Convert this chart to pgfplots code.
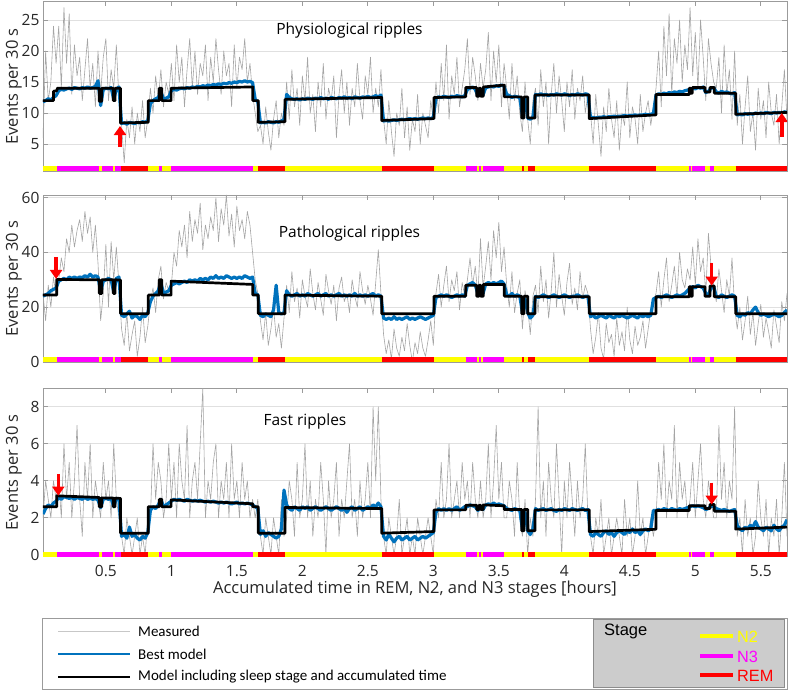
\documentclass[border=0pt]{standalone}
\usepackage{pgfplots}
\pgfplotsset{compat=1.18}
\usepackage{pgfplotstable}
\usepackage{fontspec}
\setmainfont{Open Sans}
\newfontfamily\legfont{Carlito}
\newfontfamily\arialfont{Liberation Sans}
\usetikzlibrary{arrows.meta}
\definecolor{mgray}{RGB}{165,165,165}
\definecolor{mblue}{RGB}{0,114,189}
\definecolor{axgray}{RGB}{155,155,155}
\definecolor{txt}{RGB}{38,38,38}
\definecolor{boxgray}{RGB}{204,204,204}
\definecolor{styel}{RGB}{255,255,0}
\definecolor{stmag}{RGB}{255,0,255}
\definecolor{stred}{RGB}{255,0,0}

\pgfplotstableread{
x g1 b1 g2 b2 g3 b3
0.02 6 11.8 25 24 2 2.2
0.04 20 12.0 15 24.5 4 2.5
0.06 12 12.3 28 25 3 2.7
0.08 15 12.1 20 26 2 2.6
0.10 24 12.5 31 26.5 4 2.8
0.12 18 12.8 24 27 3 2.9
0.14 24 13.6 30 29.5 4 3.1
0.16 14 13.8 38 30 2 3.0
0.18 27 13.7 33 30.5 6 3.15
0.20 18 13.9 45 30 3 3.1
0.22 26 14.0 40 31 5 3.05
0.24 13 13.8 50 30.5 2 3.1
0.26 21 14.1 42 31 4 3.0
0.28 16 14.0 48 30.5 7 3.1
0.30 19 13.9 52 31 3 3.05
0.32 12 14.1 44 30.8 1 3.0
0.34 17 14.0 55 31.5 5 3.1
0.36 22 14.2 47 31 3 3.0
0.38 14 14.0 53 32 6 3.05
0.40 18 14.1 40 31 2 3.0
0.42 11 14.3 50 31.5 4 3.05
0.44 20 15.2 36 31 3 2.95
0.46 13 11.2 15 25.5 2 2.55
0.48 19 13.8 25 29.5 5 3.0
0.50 22 14.0 43 30 3 3.05
0.52 12 13.9 20 30.5 4 3.0
0.54 17 14.1 44 30 2 3.05
0.56 14 12.2 30 25.5 6 2.6
0.58 21 13.9 42 30.5 3 3.05
0.60 12 14.2 28 31 2 3.0
0.62 8 8.3 12 17 1 1.0
0.64 2 8.4 6 16.5 0 1.1
0.66 9 8.2 18 17.5 2 0.9
0.68 6 8.5 4 18.5 1 1.5
0.70 11 8.4 10 16 0 1.0
0.72 5 8.3 15 17 1 1.1
0.74 10 8.5 2 16.5 2 0.9
0.76 7 8.4 9 15.5 0 0.8
0.78 12 8.6 20 17 1 1.0
0.80 6 8.5 7 16.5 0 0.9
0.82 9 8.8 13 18 2 1.2
0.84 14 11.5 22 22 2 2.4
0.86 10 12.0 27 24 6 2.6
0.88 16 12.3 18 25 3 2.5
0.90 12 12.5 30 26 5 2.7
0.92 17 13.5 35 29 4 3.0
0.94 11 12.2 23 25 2 2.6
0.96 15 12.4 29 25.5 3 2.7
0.98 13 12.6 26 26 6 2.8
1.00 18 13.6 28 28 3 2.9
1.02 12 13.8 40 28.5 5 3.0
1.04 21 13.7 35 29 2 2.95
1.06 15 13.9 48 28.5 6 3.0
1.08 19 14.0 42 29 4 2.95
1.10 11 13.9 50 29.5 3 2.9
1.12 17 14.1 38 29 7 3.0
1.14 22 14.0 55 30 2 2.95
1.16 14 14.2 44 29.5 4 2.9
1.18 20 14.1 52 30 5 2.95
1.20 13 14.3 47 29.5 3 2.9
1.22 18 14.2 58 30.5 6 2.95
1.24 16 14.4 41 30 9 2.9
1.26 21 14.3 50 30.5 2 2.85
1.28 12 14.5 45 30 4 2.9
1.30 19 14.4 53 31 3 2.85
1.32 15 14.6 48 30.5 5 2.9
1.34 22 14.5 60 31.5 6 2.85
1.36 17 14.7 44 30.5 2 2.8
1.38 13 14.6 56 31 4 2.85
1.40 20 14.8 50 30.5 3 2.8
1.42 16 14.7 61 31.5 5 2.85
1.44 18 14.9 46 31 2 2.8
1.46 11 14.8 54 30.5 6 2.75
1.48 21 15.0 42 31 3 2.8
1.50 14 14.9 57 30.5 4 2.85
1.52 19 15.1 48 31 2 2.75
1.54 17 15.0 52 30.5 5 2.8
1.56 22 15.2 45 31.5 3 2.75
1.58 15 15.0 55 31 4 2.8
1.60 18 15.1 50 30.5 2 2.75
1.62 13 14.9 40 31 3 2.7
1.64 10 12.2 30 25 2 2.6
1.66 7 11.8 25 24.5 3 2.5
1.68 8 8.4 15 17 1 1.1
1.70 5 8.5 8 16.5 0 1.3
1.72 11 8.4 18 17.5 2 1.0
1.74 7 8.6 6 17 1 1.2
1.76 4 8.5 12 16.5 0 1.1
1.78 9 8.4 20 19 2 1.0
1.80 12 8.6 9 28 1 0.9
1.82 6 8.5 14 18 0 1.0
1.84 10 8.7 5 17.5 3 1.4
1.86 8 9.0 16 18 1 3.5
1.88 15 13.0 28 26 2 2.7
1.90 9 12.5 18 24.5 4 2.5
1.92 17 12.3 33 24 3 2.4
1.94 11 12.2 22 24.5 1 2.6
1.96 14 12.3 27 25 5 2.5
1.98 8 12.1 16 24 2 2.4
2.00 16 12.3 30 24.5 3 2.6
2.02 12 12.2 24 24 6 2.5
2.04 19 12.4 20 25 2 2.6
2.06 10 12.3 34 24.5 4 2.4
2.08 13 12.2 25 24 1 2.5
2.10 7 12.4 19 24.5 3 2.6
2.12 15 12.3 29 25 2 2.5
2.14 11 12.5 23 24 5 2.4
2.16 18 12.3 17 24.5 3 2.5
2.18 9 12.4 32 25 0 2.6
2.20 14 12.2 26 24 4 2.5
2.22 12 12.5 21 24.5 2 2.4
2.24 16 12.4 28 24 3 2.5
2.26 6 12.3 15 24.5 5 2.6
2.28 13 12.5 27 25 1 2.5
2.30 17 12.4 31 24 3 2.4
2.32 10 12.6 22 24.5 2 2.5
2.34 15 12.4 25 24 4 2.3
2.36 8 12.5 18 24.5 6 2.5
2.38 14 12.3 30 24 2 2.6
2.40 11 12.6 24 25 3 2.4
2.42 18 12.5 20 24 1 2.5
2.44 12 12.4 33 24.5 4 2.6
2.46 9 12.6 26 24 2 2.4
2.48 16 12.5 21 24.5 3 2.5
2.50 13 12.7 28 24 5 2.6
2.52 19 12.5 23 24.5 2 2.5
2.54 10 12.6 17 25 8 2.7
2.56 14 12.8 29 24 4 2.6
2.58 11 12.6 41 24.5 8 2.8
2.60 17 12.9 25 24 3 2.6
2.62 9 8.7 10 16 1 1.0
2.64 5 8.8 3 15.5 0 0.8
2.66 12 8.7 8 16 2 1.1
2.68 7 8.8 1 15.5 1 0.9
2.70 3 8.9 12 16.5 0 0.7
2.72 10 8.8 5 15.5 1 0.9
2.74 8 8.9 2 16 3 1.0
2.76 14 9.0 9 15.5 0 0.8
2.78 6 8.9 4 16 1 0.9
2.80 11 9.0 14 16.5 2 1.0
2.82 4 9.1 6 15.5 0 0.8
2.84 9 9.0 0 16 1 0.9
2.86 7 9.1 7 15.5 0 1.0
2.88 13 9.0 3 16 2 0.8
2.90 5 9.1 11 16.5 1 0.9
2.92 10 9.2 5 16 0 1.0
2.94 8 9.1 2 15.5 1 0.9
2.96 6 9.2 8 16 2 1.0
2.98 12 9.1 15 16.5 1 1.1
3.00 9 9.3 6 17 0 1.2
3.02 15 12.4 25 23.5 3 2.3
3.04 10 12.6 32 24 2 2.5
3.06 18 12.5 20 24.5 5 2.4
3.08 12 12.7 28 24 2 2.5
3.10 21 12.6 35 24.5 3 2.4
3.12 9 12.5 22 24 6 2.5
3.14 16 12.7 30 23.5 2 2.4
3.16 13 12.6 26 24 3 2.5
3.18 19 12.8 33 24.5 4 2.6
3.20 11 12.7 19 24 2 2.4
3.22 14 12.6 29 24.5 5 2.5
3.24 17 12.8 24 24 3 2.6
3.26 22 13.8 30 28 4 2.6
3.28 13 14.0 38 28.5 2 2.7
3.30 19 14.2 28 29 5 2.65
3.32 16 13.8 35 28 3 2.6
3.34 12 12.8 24 25 2 2.4
3.36 18 13.5 45 27 4 2.55
3.38 14 12.9 27 25 2 2.45
3.40 17 14.1 35 28.5 3 2.7
3.42 23 14.2 44 29 6 2.75
3.44 12 14.3 30 28.5 2 2.7
3.46 20 14.2 48 29 4 2.8
3.48 15 14.4 38 28.5 7 2.7
3.50 21 14.3 51 29 3 2.75
3.52 11 14.5 33 29.5 5 2.7
3.54 18 14.3 42 28.5 2 2.65
3.56 14 13.0 28 24.5 2 2.5
3.58 9 12.8 20 24 4 2.45
3.60 18 12.5 33 25 3 2.4
3.62 12 12.7 18 24 1 2.5
3.64 16 12.6 25 24.5 5 2.45
3.66 10 12.5 30 24 2 2.4
3.68 7 9.5 12 18 1 1.4
3.70 15 12.4 26 23 3 2.3
3.72 9 9.2 20 18 0 1.3
3.74 5 9.0 10 16 2 1.1
3.76 12 9.3 24 17 1 1.4
3.78 14 13.0 28 24 3 2.5
3.80 8 12.9 18 23.5 8 2.4
3.82 17 13.1 35 24 2 2.45
3.84 11 12.9 22 24.5 4 2.5
3.86 15 13.0 30 24 1 2.4
3.88 5 12.8 16 23.5 5 2.45
3.90 13 13.0 26 24 3 2.5
3.92 18 12.9 40 24.5 2 2.4
3.94 10 13.1 20 24 6 2.35
3.96 16 13.0 32 23.5 3 2.45
3.98 12 12.9 24 24 0 2.4
4.00 7 13.1 17 24.5 4 2.5
4.02 15 13.0 29 24 2 2.45
4.04 11 12.8 36 23.5 5 2.4
4.06 17 13.0 21 24 3 2.5
4.08 9 12.9 27 24 1 2.45
4.10 14 13.1 19 24.5 4 2.4
4.12 12 13.0 33 24 2 2.45
4.14 16 12.9 23 23.5 3 2.5
4.16 10 13.1 28 24 6 2.4
4.18 13 13.0 25 24 2 2.45
4.20 10 9.2 12 16.5 1 1.1
4.22 5 9.3 3 17 0 1.0
4.24 13 9.2 9 16 2 1.2
4.26 8 9.3 18 16.5 1 1.1
4.28 3 9.3 5 17 3 1.0
4.30 11 9.4 1 16.5 0 1.2
4.32 7 9.3 14 16 1 1.3
4.34 14 9.4 7 17 2 1.1
4.36 9 9.4 10 16.5 0 1.2
4.38 6 9.5 2 16 1 1.0
4.40 12 9.4 16 17 2 1.2
4.42 4 9.5 6 16.5 1 1.3
4.44 10 9.5 11 17 0 1.2
4.46 8 9.6 4 16.5 3 1.1
4.48 15 9.5 20 16 1 1.3
4.50 6 9.6 8 16.5 2 1.2
4.52 11 9.6 3 17 0 1.4
4.54 9 9.7 13 16.5 1 1.2
4.56 5 9.6 6 16 4 1.3
4.58 13 9.7 9 17 1 1.1
4.60 7 9.7 15 16.5 2 1.3
4.62 10 9.8 5 17 0 1.4
4.64 12 9.7 12 16.5 1 1.3
4.66 8 9.8 19 17 2 1.4
4.68 11 9.9 22 23 1 2.4
4.70 14 12.9 25 23.5 2 2.4
4.72 20 13.1 33 24 5 2.45
4.74 11 13.0 20 23.5 3 2.4
4.76 24 13.2 30 24 6 2.5
4.78 16 13.1 38 24.5 2 2.45
4.80 26 13.3 22 24 4 2.4
4.82 13 13.2 28 23.5 3 2.5
4.84 22 13.4 35 24 7 2.45
4.86 18 13.3 24 24.5 2 2.4
4.88 25 13.5 40 24 5 2.5
4.90 15 13.4 30 24.5 3 2.45
4.92 21 13.6 27 25 4 2.5
4.94 17 13.7 34 26 2 2.55
4.96 27 13.8 30 27 3 2.6
4.98 16 14.0 42 27.5 5 2.65
5.00 23 13.9 28 27 2 2.6
5.02 14 14.1 45 28 4 2.65
5.04 25 14.0 33 27.5 6 2.6
5.06 19 14.2 38 27 3 2.55
5.08 12 13.3 25 25 2 2.45
5.10 22 13.5 47 24.5 4 2.5
5.12 18 14.0 35 27 3 2.65
5.14 15 14.1 28 27.5 2 2.6
5.16 14 13.4 22 24 2 2.5
5.18 19 13.2 34 23.5 7 2.45
5.20 10 13.5 26 24.5 3 2.4
5.22 21 13.3 18 24 5 2.45
5.24 13 13.4 30 23.5 2 2.4
5.26 17 13.2 24 24 4 2.35
5.28 9 13.1 38 24.5 3 2.4
5.30 20 13.3 20 24 8 2.45
5.32 8 9.7 12 17 1 1.6
5.34 13 9.8 20 16.5 2 1.4
5.36 5 9.7 8 17.5 0 1.3
5.38 11 9.9 15 17 3 1.5
5.40 16 9.8 24 18 1 1.4
5.42 7 9.9 10 17.5 2 1.6
5.44 10 9.8 18 19 0 1.5
5.46 4 10.0 6 20 1 1.8
5.48 14 9.9 14 18 4 1.5
5.50 9 10.0 21 17 2 1.4
5.52 12 9.9 9 17.5 1 1.3
5.54 6 10.1 16 17 3 1.5
5.56 15 10.0 11 16.5 0 1.4
5.58 10 9.9 5 17 2 1.3
5.60 8 10.1 19 17.5 1 1.6
5.62 13 10.0 13 17 3 1.4
5.64 5 10.1 7 16.5 0 1.3
5.66 11 10.0 22 17 2 1.5
5.68 17 10.2 15 18 5 1.6
5.70 9 10.1 25 19 1 1.9
}\data

% sleep stage bars (y level given as argument)
\newcommand\stages[1]{%
\addplot[styel, line width=5pt, unbounded coords=jump, forget plot] coordinates {
(0.02,#1)(0.125,#1)(0.2,nan)(0.45,#1)(0.469,#1)(0.5,nan)(0.557,#1)(0.57,#1)(0.6,nan)
(0.824,#1)(0.908,#1)(0.91,nan)(0.927,#1)(0.998,#1)(1.2,nan)(1.621,#1)(1.664,#1)(1.7,nan)
(1.868,#1)(2.606,#1)(2.7,nan)(3.005,#1)(3.247,#1)(3.3,nan)(3.331,#1)(3.349,#1)(3.35,nan)
(3.362,#1)(3.382,#1)(3.4,nan)(3.542,#1)(3.675,#1)(3.68,nan)(3.692,#1)(3.721,#1)(3.73,nan)
(3.776,#1)(4.191,#1)(4.3,nan)(4.70,#1)(4.954,#1)(4.96,nan)(4.965,#1)(4.977,#1)(5.0,nan)
(5.074,#1)(5.112,#1)(5.12,nan)(5.145,#1)(5.308,#1)};
\addplot[stmag, line width=5pt, unbounded coords=jump, forget plot] coordinates {
(0.13,#1)(0.45,#1)(0.46,nan)(0.469,#1)(0.557,#1)(0.56,nan)(0.57,#1)(0.612,#1)(0.7,nan)
(0.908,#1)(0.927,#1)(0.95,nan)(0.998,#1)(1.621,#1)(2.0,nan)(3.247,#1)(3.331,#1)(3.34,nan)
(3.349,#1)(3.362,#1)(3.37,nan)(3.382,#1)(3.542,#1)(4.0,nan)(4.954,#1)(4.965,#1)(4.97,nan)
(4.977,#1)(5.074,#1)(5.09,nan)(5.112,#1)(5.145,#1)};
\addplot[stred, line width=5pt, unbounded coords=jump, forget plot] coordinates {
(0.612,#1)(0.824,#1)(1.0,nan)(1.664,#1)(1.868,#1)(2.0,nan)(2.606,#1)(3.005,#1)(3.2,nan)
(3.675,#1)(3.692,#1)(3.7,nan)(3.721,#1)(3.776,#1)(4.0,nan)(4.191,#1)(4.70,#1)(5.0,nan)
(5.308,#1)(5.70,#1)};
}

\pgfplotsset{
  ripax/.style={
    scale only axis, width=744pt,
    xmin=0.02, xmax=5.70,
    xtick={0.5,1,1.5,2,2.5,3,3.5,4,4.5,5,5.5},
    tick align=inside,
    axis line style={axgray, line width=0.8pt},
    tick style={axgray, line width=0.8pt},
    major tick length=5pt,
    ymajorgrids,
    grid style={black!12, line width=0.7pt},
    ticklabel style={font=\fontsize{15.5}{17}\selectfont, text=txt},
    xticklabel style={yshift=-5pt},
    /pgf/number format/assume math mode=true,
    ylabel={Events per 30 s},
    ylabel style={at={(axis description cs:-0.039,0.5)}, anchor=center,
      font=\fontsize{16.5}{18}\selectfont, text=txt},
    clip=true,
  },
  gline/.style={mgray, line width=0.6pt, line join=round},
  bline/.style={mblue, line width=3.2pt, line join=round},
  kline/.style={black, line width=2.7pt, line join=round},
}
\tikzset{arr/.style={stred, line width=3.5pt, -{Triangle[width=12pt,length=9pt]}},
  ttl/.style={font=\fontsize{15.5}{17}\selectfont, text=black}}

\begin{document}
\begin{tikzpicture}
\path[use as bounding box] (0pt,0pt) rectangle (790pt,-692pt);

% ---------- Panel 1 ----------
\begin{axis}[ripax, at={(43pt,-1.4pt)}, anchor=north west, height=169.9pt,
  ymin=0.6, ymax=28, ytick={5,10,15,20,25}, xticklabels={}]
\addplot[gline] table[x=x, y=g1] {\data};
\addplot[bline] table[x=x, y=b1] {\data};
\addplot[kline] coordinates {(0.02,12)(0.10,12)(0.10,13.5)(0.125,13.6)(0.13,14.0)(0.45,14.0)(0.45,11.9)(0.469,11.9)(0.469,14.0)(0.557,14.0)(0.557,12.0)(0.57,12.0)(0.57,14.0)(0.612,14.0)(0.612,8.4)(0.824,8.5)(0.824,12.0)(0.908,12.0)(0.908,14.0)(0.927,14.0)(0.927,12.0)(0.998,12.0)(0.998,14.0)(1.621,14.2)(1.621,12.0)(1.664,12.0)(1.664,8.5)(1.868,8.6)(1.868,12.2)(2.606,12.5)(2.606,8.8)(3.005,9.1)(3.005,12.5)(3.247,12.6)(3.247,14.1)(3.331,14.1)(3.331,12.7)(3.349,12.7)(3.349,14.0)(3.362,14.0)(3.362,12.7)(3.382,12.7)(3.382,14.2)(3.542,14.5)(3.542,12.6)(3.675,12.6)(3.675,9.2)(3.692,9.2)(3.692,12.6)(3.721,12.6)(3.721,9.2)(3.776,9.2)(3.776,12.9)(4.191,12.9)(4.191,9.1)(4.70,9.7)(4.70,13.0)(4.954,13.0)(4.954,14.0)(4.965,14.0)(4.965,13.2)(4.977,13.2)(4.977,14.1)(5.074,14.1)(5.074,13.4)(5.112,13.4)(5.112,14.1)(5.145,14.1)(5.145,13.2)(5.308,13.2)(5.308,9.8)(5.70,10.1)};
\stages{1.0}
\draw[arr] (axis cs:0.608,4.5) -- (axis cs:0.608,7.9);
\draw[arr] (axis cs:5.66,6.2) -- (axis cs:5.66,10.0);
\node[ttl] at (axis cs:2.36,23.3) {Physiological ripples};
\end{axis}

% ---------- Panel 2 ----------
\begin{axis}[ripax, at={(43pt,-195pt)}, anchor=north west, height=167.1pt,
  ymin=-0.1, ymax=61, ytick={0,20,40,60}, xticklabels={}]
\addplot[gline] table[x=x, y=g2] {\data};
\addplot[bline] table[x=x, y=b2] {\data};
\addplot[kline] coordinates {(0.02,24.4)(0.125,24.4)(0.125,30.1)(0.45,30.0)(0.45,25)(0.469,25)(0.469,30)(0.557,30)(0.557,25)(0.57,25)(0.57,30)(0.612,29.9)(0.612,17.6)(0.824,17.6)(0.824,24.4)(0.908,24.4)(0.908,30)(0.927,30)(0.927,24.4)(0.998,24.4)(0.998,29.5)(1.621,28.3)(1.621,24.4)(1.664,24.4)(1.664,17.6)(1.868,17.6)(1.868,24.4)(2.606,24.0)(2.606,17.6)(3.005,17.6)(3.005,24.0)(3.247,24.0)(3.247,28.0)(3.331,28.0)(3.331,24.0)(3.349,24)(3.349,28)(3.362,28)(3.362,24)(3.382,24)(3.382,28.3)(3.542,28.3)(3.542,24.0)(3.675,24.0)(3.675,17.6)(3.692,17.6)(3.692,24)(3.721,24)(3.721,17.6)(3.776,17.6)(3.776,23.8)(4.191,23.8)(4.191,17.6)(4.70,17.6)(4.70,23.8)(4.954,23.8)(4.954,27.5)(4.965,27.5)(4.965,24)(4.977,24)(4.977,27.5)(5.074,27.5)(5.074,24)(5.112,24)(5.112,27.7)(5.145,27.7)(5.145,23.8)(5.308,23.8)(5.308,17.6)(5.70,17.6)};
\stages{0.81}
\draw[arr] (axis cs:0.12,38.4) -- (axis cs:0.12,30.3);
\draw[arr] (axis cs:5.125,36) -- (axis cs:5.125,27.9);
\node[ttl] at (axis cs:2.36,46.8) {Pathological ripples};
\end{axis}

% ---------- Panel 3 ----------
\begin{axis}[ripax, at={(43pt,-388.3pt)}, anchor=north west, height=168.4pt,
  ymin=-0.1, ymax=9, ytick={0,2,4,6,8},
  xlabel={Accumulated time in REM, N2, and N3 stages [hours]},
  xlabel style={at={(axis description cs:0.5,-0.192)}, anchor=center,
    font=\fontsize{16.5}{18}\selectfont, text=txt}]
\addplot[gline] table[x=x, y=g3] {\data};
\addplot[bline] table[x=x, y=b3] {\data};
\addplot[kline] coordinates {(0.02,2.6)(0.125,2.6)(0.125,3.19)(0.45,3.1)(0.45,2.6)(0.469,2.6)(0.469,3.08)(0.557,3.07)(0.557,2.6)(0.57,2.6)(0.57,3.06)(0.612,3.05)(0.612,1.17)(0.824,1.17)(0.824,2.6)(0.908,2.6)(0.908,3.0)(0.927,3.0)(0.927,2.6)(0.998,2.6)(0.998,2.97)(1.621,2.76)(1.621,2.6)(1.664,2.6)(1.664,1.17)(1.868,1.17)(1.868,2.56)(2.606,2.5)(2.606,1.17)(3.005,1.26)(3.005,2.43)(3.247,2.43)(3.247,2.68)(3.331,2.68)(3.331,2.45)(3.349,2.45)(3.349,2.68)(3.362,2.68)(3.362,2.45)(3.382,2.45)(3.382,2.7)(3.542,2.65)(3.542,2.45)(3.675,2.45)(3.675,1.3)(3.692,1.3)(3.692,2.45)(3.721,2.45)(3.721,1.3)(3.776,1.3)(3.776,2.43)(4.191,2.43)(4.191,1.26)(4.70,1.38)(4.70,2.4)(4.954,2.4)(4.954,2.65)(5.074,2.65)(5.074,2.5)(5.112,2.5)(5.112,2.72)(5.145,2.72)(5.145,2.36)(5.308,2.36)(5.308,1.39)(5.70,1.5)};
\stages{0.035}
\draw[arr] (axis cs:0.137,4.38) -- (axis cs:0.137,3.2);
\draw[arr] (axis cs:5.125,3.9) -- (axis cs:5.125,2.72);
\node[ttl] at (axis cs:2.02,7.19) {Fast ripples};
\end{axis}

% ---------- Legend ----------
\draw[axgray, line width=0.8pt, fill=white] (42pt,-618pt) rectangle (787pt,-689pt);
\draw[black!22, line width=1.4pt] (58pt,-631.7pt) -- (130pt,-631.7pt);
\draw[mblue, line width=2.2pt] (58pt,-654.3pt) -- (130pt,-654.3pt);
\draw[black, line width=2.4pt] (58pt,-676.7pt) -- (130pt,-676.7pt);
\node[anchor=west, inner sep=0pt, font=\legfont\fontsize{15}{17}\selectfont] at (138pt,-631.7pt) {Measured};
\node[anchor=west, inner sep=0pt, font=\legfont\fontsize{15}{17}\selectfont] at (138pt,-654.3pt) {Best model};
\node[anchor=west, inner sep=0pt, font=\legfont\fontsize{15}{17}\selectfont] at (138pt,-676.7pt) {Model including sleep stage and accumulated time};
\draw[black!45, line width=0.8pt, fill=boxgray] (593pt,-619pt) rectangle (784pt,-687pt);
\node[anchor=west, inner sep=0pt, font=\arialfont\fontsize{16.5}{18}\selectfont] at (604pt,-631pt) {Stage};
\draw[styel, line width=3.8pt] (700pt,-636pt) -- (733pt,-636pt);
\draw[stmag, line width=3.8pt] (700pt,-656pt) -- (733pt,-656pt);
\draw[stred, line width=3.8pt] (700pt,-675pt) -- (733pt,-675pt);
\node[anchor=west, inner sep=0pt, text=styel, font=\arialfont\fontsize{16.3}{18}\selectfont] at (737pt,-637pt) {N2};
\node[anchor=west, inner sep=0pt, text=stmag, font=\arialfont\fontsize{16.3}{18}\selectfont] at (737pt,-657pt) {N3};
\node[anchor=west, inner sep=0pt, text=stred, font=\arialfont\fontsize{16.3}{18}\selectfont] at (737pt,-676pt) {REM};
\end{tikzpicture}
\end{document}
